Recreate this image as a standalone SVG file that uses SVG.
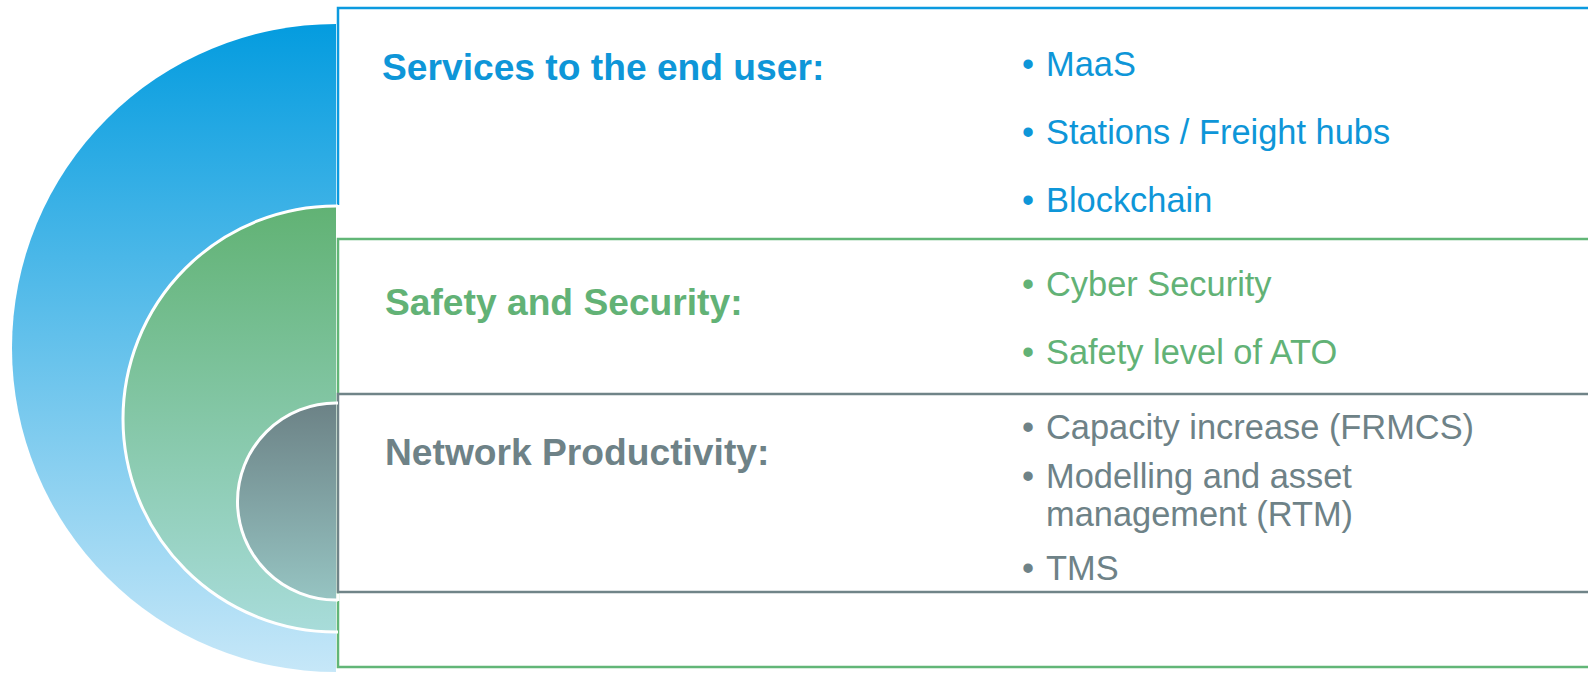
<svg xmlns="http://www.w3.org/2000/svg" width="1588" height="676" viewBox="0 0 1588 676">
<defs>
<linearGradient id="gBlue" x1="0" y1="0" x2="0" y2="1"><stop offset="0" stop-color="#049CDF"/><stop offset="1" stop-color="#C6E7F8"/></linearGradient>
<linearGradient id="gGreen" x1="0" y1="0" x2="0" y2="1"><stop offset="0" stop-color="#61B274"/><stop offset="1" stop-color="#A8DCDA"/></linearGradient>
<linearGradient id="gGrey" x1="0" y1="0" x2="0" y2="1"><stop offset="0" stop-color="#6C8286"/><stop offset="1" stop-color="#96C4C2"/></linearGradient>
<style>
text{font-family:"Liberation Sans",Arial,sans-serif;}
.h{font-weight:bold;font-size:37.2px;}
.b{font-size:34.4px;}
.blue{fill:#0E96D8;}
.green{fill:#62B276;}
.grey{fill:#6E8287;}
.arc{fill:none;stroke:#FFFFFF;stroke-width:3;}
.box{fill:#FFFFFF;}
</style>
</defs>
<rect width="1588" height="676" fill="#FFFFFF"/>
<g id="node-services">
<rect class="box" x="338" y="8" width="1260" height="659"/>
<path d="M1600,8 H338 V205" fill="none" stroke="#0B9ADF" stroke-width="2.5"/>
<path d="M336,24 A324,324 0 0 0 336,672 Z" fill="url(#gBlue)"/>
</g>
<g id="node-safety">
<rect class="box" x="338" y="239" width="1260" height="428" stroke="#62B677" stroke-width="2.5"/>
<path d="M336,206 A213,213 0 0 0 336,632 Z" fill="url(#gGreen)"/>
<path class="arc" d="M338,206 H336 A213,213 0 0 0 336,632 H338"/>
</g>
<g id="node-network">
<rect class="box" x="338" y="394" width="1260" height="198" stroke="#708488" stroke-width="2.5"/>
<path d="M336,403 A98.5,98.5 0 0 0 336,600 Z" fill="url(#gGrey)"/>
<path class="arc" d="M338,403 H336 A98.5,98.5 0 0 0 336,600 H338"/>
<line x1="338" y1="593.5" x2="338" y2="601" stroke="#FFFFFF" stroke-width="3"/>
</g>
<g id="text-services">
<text class="h blue" x="382" y="80">Services to the end user:</text>
<text class="b blue" x="1022" y="76">•</text><text class="b blue" x="1046" y="76">MaaS</text>
<text class="b blue" x="1022" y="144">•</text><text class="b blue" x="1046" y="144">Stations / Freight hubs</text>
<text class="b blue" x="1022" y="212">•</text><text class="b blue" x="1046" y="212">Blockchain</text>
</g>
<g id="text-safety">
<text class="h green" x="385" y="315">Safety and Security:</text>
<text class="b green" x="1022" y="296">•</text><text class="b green" x="1046" y="296">Cyber Security</text>
<text class="b green" x="1022" y="364">•</text><text class="b green" x="1046" y="364">Safety level of ATO</text>
</g>
<g id="text-network">
<text class="h grey" x="385" y="465">Network Productivity:</text>
<text class="b grey" x="1022" y="439">•</text><text class="b grey" x="1046" y="439">Capacity increase (FRMCS)</text>
<text class="b grey" x="1022" y="488">•</text><text class="b grey" x="1046" y="488">Modelling and asset</text>
<text class="b grey" x="1046" y="526">management (RTM)</text>
<text class="b grey" x="1022" y="580">•</text><text class="b grey" x="1046" y="580">TMS</text>
</g>
</svg>
